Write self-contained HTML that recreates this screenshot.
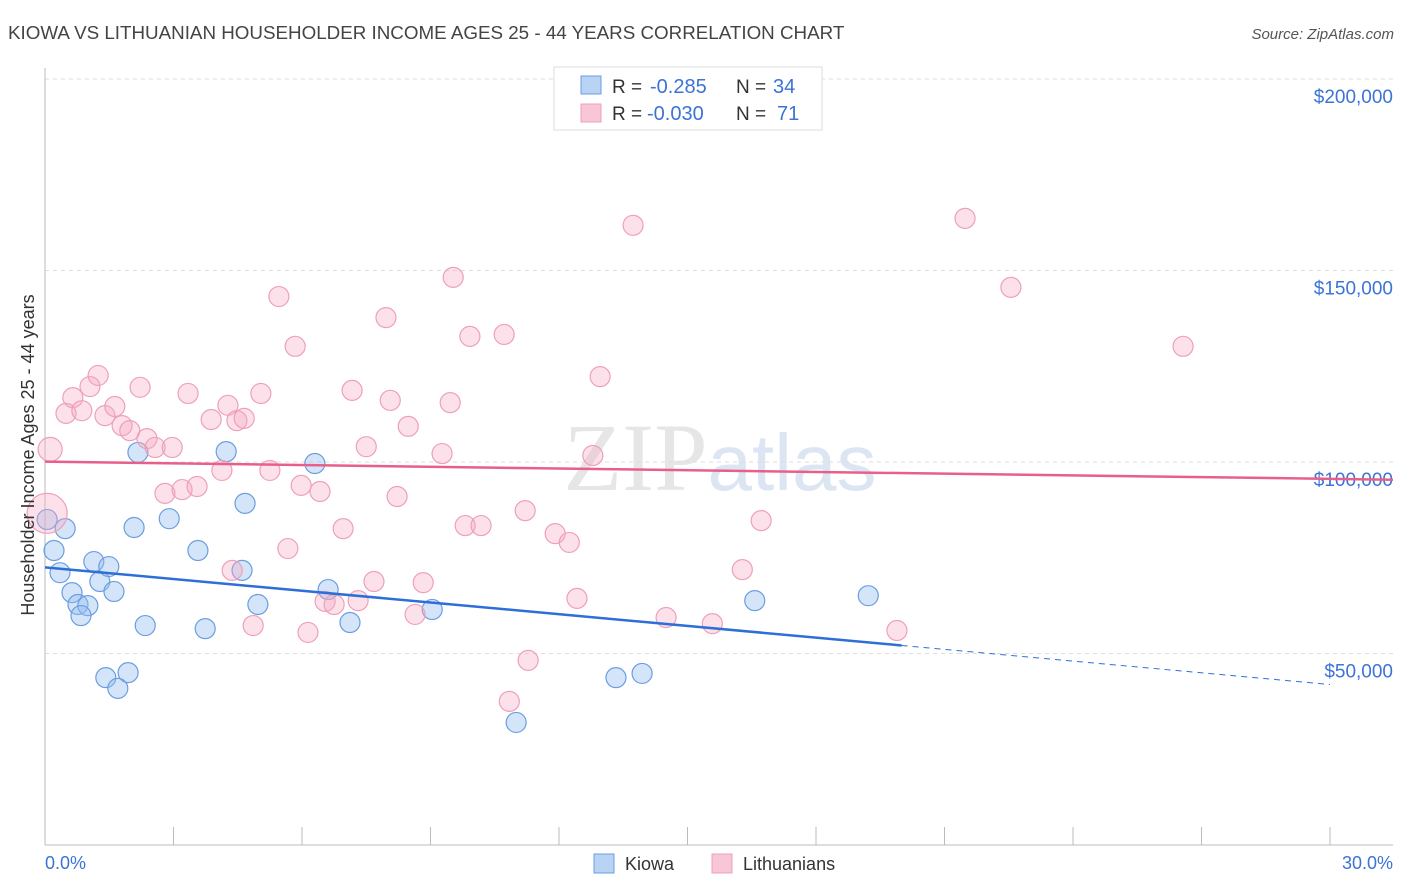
<!DOCTYPE html>
<html><head><meta charset="utf-8"><style>
body{margin:0;background:#fff;font-family:"Liberation Sans",sans-serif}
svg{display:block}
</style></head><body>
<svg id="chart" width="1406" height="892">
<text x="8" y="39" font-size="18.8" fill="#444">KIOWA VS LITHUANIAN HOUSEHOLDER INCOME AGES 25 - 44 YEARS CORRELATION CHART</text>
<text x="1394" y="39" font-size="15" fill="#555" font-style="italic" text-anchor="end">Source: ZipAtlas.com</text>
<text x="720" y="490" font-size="96" fill="#e6e6e6" text-anchor="middle" font-family="Liberation Serif">ZIP<tspan fill="#dce6f3" font-family="Liberation Sans" font-size="80">atlas</tspan></text>
<g id="grid"></g>
<g id="axes"></g>
<g id="marks"></g>
<text transform="translate(34,455) rotate(-90)" font-size="18" fill="#333" text-anchor="middle">Householder Income Ages 25 - 44 years</text>
<text x="45" y="869" font-size="18" fill="#3b73d6">0.0%</text>
<text x="1393" y="869" font-size="18" fill="#3b73d6" text-anchor="end">30.0%</text>
<g>
<rect x="554" y="67" width="268" height="63" fill="#fff" stroke="#ddd"/>
<rect x="581" y="76" width="20" height="18" fill="#b8d3f3" stroke="#6a9de0"/>
<rect x="581" y="104" width="20" height="18" fill="#f8c6d5" stroke="#eea0b8"/>
<text x="612" y="93" font-size="19" fill="#333">R =</text>
<text x="650" y="93" font-size="20" fill="#3b73d6">-0.285</text>
<text x="736" y="93" font-size="19" fill="#333">N =</text>
<text x="773" y="93" font-size="20" fill="#3b73d6">34</text>
<text x="612" y="120" font-size="19" fill="#333">R =</text>
<text x="647" y="120" font-size="20" fill="#3b73d6">-0.030</text>
<text x="736" y="120" font-size="19" fill="#333">N =</text>
<text x="777" y="120" font-size="20" fill="#3b73d6">71</text>
</g>
<g>
<rect x="594" y="854" width="20" height="19" fill="#b8d3f3" stroke="#6a9de0"/>
<text x="625" y="870" font-size="18" fill="#333">Kiowa</text>
<rect x="712" y="854" width="20" height="19" fill="#f8c6d5" stroke="#eea0b8"/>
<text x="743" y="870" font-size="18" fill="#333">Lithuanians</text>
</g>
</svg>
<script>
const yTicks=[50000,100000,150000,200000];
const yTickLabels=["$50,000","$100,000","$150,000","$200,000"];
const xTicks=[0,3,6,9,12,15,18,21,24,27,30];
const kiowaX=[0.05,0.47,0.21,0.35,0.63,0.77,1.00,0.84,1.14,1.28,1.49,1.61,1.42,1.94,1.70,2.08,2.17,2.34,2.90,3.57,3.74,4.23,4.60,4.67,4.97,6.30,6.61,7.12,9.04,11.00,13.33,13.94,16.57,19.22];
const kiowaY=[85.0,82.6,76.9,71.1,65.9,62.8,62.5,59.9,74.0,68.8,72.7,66.2,43.7,45.0,40.9,82.9,102.5,57.3,85.2,76.9,56.5,102.7,71.7,89.2,62.8,99.6,66.7,58.1,61.5,32.0,43.7,44.8,63.8,65.1];
const lithX=[0.12,0.05,0.49,0.65,0.86,1.05,1.24,1.40,1.63,1.80,1.98,2.22,2.38,2.57,2.97,2.80,3.20,3.34,3.55,3.88,4.13,4.27,4.48,4.65,5.04,5.25,5.46,5.84,5.67,4.37,4.86,5.98,6.14,6.42,6.54,6.75,6.96,7.17,7.31,7.50,7.68,7.96,8.06,8.22,8.48,8.64,8.83,9.27,9.46,9.53,9.81,9.92,10.18,10.72,10.84,11.21,11.28,11.91,12.24,12.42,12.79,12.96,13.73,14.50,15.58,16.28,16.72,19.89,21.48,22.55,26.57];
const lithY=[103.3,86.6,112.7,116.8,113.4,119.7,122.6,112.1,114.5,109.5,108.2,119.5,106.1,103.8,103.8,91.8,92.8,117.9,93.6,111.1,97.8,114.8,110.8,111.4,117.9,97.8,143.2,130.2,77.4,71.7,57.3,93.9,55.5,92.3,63.6,62.8,82.6,118.7,63.8,104.0,68.8,137.7,116.1,91.0,109.3,60.2,68.5,102.2,115.5,148.2,83.4,132.8,83.4,133.3,37.5,87.3,48.2,81.3,79.0,64.4,101.7,122.3,161.8,59.4,57.8,71.9,84.7,56.0,163.6,145.6,130.2];
const lithR=[12,20];
const kiowaTrend=[72.5,-1.02];
const lithTrend=[100.1,-0.15];
const NS="http://www.w3.org/2000/svg";
const X=v=>45+v*(1285/30);
const Y=v=>845-v*(191.5/50);
function mk(tag,attrs,parent){const e=document.createElementNS(NS,tag);for(const k in attrs)e.setAttribute(k,attrs[k]);document.getElementById(parent).appendChild(e);return e;}
yTicks.forEach((t,i)=>{
 const g=mk('line',{x1:45,x2:1393,y1:Y(t/1000),y2:Y(t/1000),stroke:'#ddd','stroke-dasharray':'4,4'},'grid');
 
 
 const tx=mk('text',{x:1393,y:Y(t/1000)+24,'font-size':19,fill:'#3b73d6','text-anchor':'end'},'grid');
 tx.textContent=yTickLabels[i];
 
 
});
const ax=mk('line',{x1:45,x2:1393,y1:845,y2:845,stroke:'#bbb'},'axes');


const ay=mk('line',{x1:45,x2:45,y1:68,y2:845,stroke:'#bbb'},'axes');


xTicks.forEach(t=>{
 const l=mk('line',{x1:X(t),x2:X(t),y1:827,y2:845,stroke:'#bbb'},'axes');
 
 
});
kiowaX.forEach((x,i)=>{
 const c=mk('circle',{cx:X(x),cy:Y(kiowaY[i]),r:10,fill:'rgba(150,190,240,0.4)',stroke:'#6a9de0','stroke-width':1.2},'marks');
 
 
});
lithX.forEach((x,i)=>{
 const r=i<2?lithR[i]:10;
 const c=mk('circle',{cx:X(x),cy:Y(lithY[i]),r:r,fill:'rgba(245,170,195,0.35)',stroke:'#eea0b8','stroke-width':1.2},'marks');
 
 
});
const kt=v=>kiowaTrend[0]+kiowaTrend[1]*v;
const t1=mk('line',{x1:X(0),y1:Y(kt(0)),x2:X(20),y2:Y(kt(20)),stroke:'#2d6fd6','stroke-width':2.5},'marks');


const t2=mk('line',{x1:X(20),y1:Y(kt(20)),x2:X(30),y2:Y(kt(30)),stroke:'#2d6fd6','stroke-width':1,'stroke-dasharray':'6,5'},'marks');


const lt=v=>lithTrend[0]+lithTrend[1]*v;
const t3=mk('line',{x1:X(0),y1:Y(lt(0)),x2:1393,y2:Y(lt(31.47)),stroke:'#e8608a','stroke-width':2.5},'marks');


</script>
</body></html>
